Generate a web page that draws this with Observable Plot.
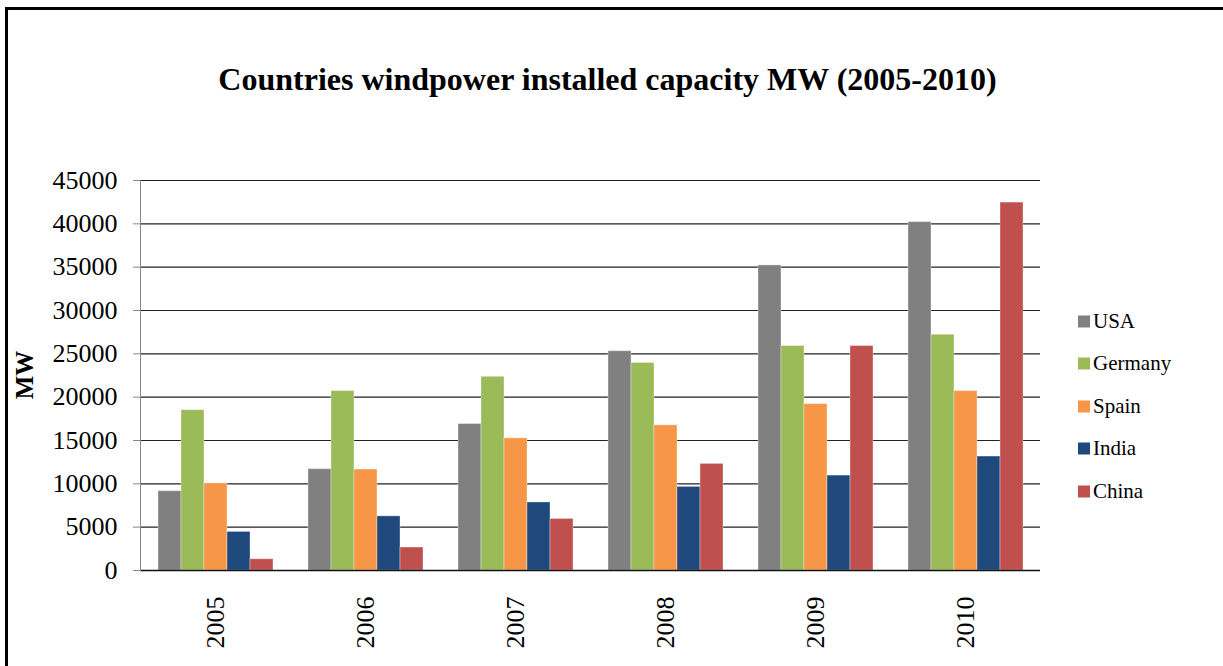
<!DOCTYPE html>
<html>
<head>
<meta charset="utf-8">
<script src="https://cdn.jsdelivr.net/npm/d3@7"></script>
<script src="https://cdn.jsdelivr.net/npm/@observablehq/plot@0.6"></script>
<style>
  html, body { margin: 0; padding: 0; background: #fff; }
  #wrap { position: relative; width: 1223px; height: 666px; overflow: hidden; font-family: "Liberation Serif", "Times New Roman", serif; }
  #border { position: absolute; left: 5px; top: 7px; width: 1400px; height: 800px; border-top: 3px solid #000; border-left: 3px solid #000; }
  #title { position: absolute; left: 0; width: 1215px; top: 61px; text-align: center; font-weight: bold; font-size: 32px; color: #000; }
  #chart { position: absolute; left: 0; top: 0; }
  #ylabel { position: absolute; left: 25px; top: 375px; transform: translate(-50%, -50%) rotate(-90deg); font-weight: bold; font-size: 25px; white-space: nowrap; }
  #legend { position: absolute; left: 1078px; top: 0; }
  .row { position: absolute; left: 0; display: flex; align-items: center; white-space: nowrap; font-size: 21px; font-family: "Liberation Serif", serif; transform: translateY(-50%); }
  .sw { width: 12px; height: 12px; margin-right: 3px; }
</style>
</head>
<body>
<div id="wrap">
  <div id="border"></div>
  <div id="title">Countries windpower installed capacity MW (2005-2010)</div>
  <div id="chart"></div>
  <div id="ylabel">MW</div>
  <div id="legend"></div>
</div>
<script>
const years = ["2005", "2006", "2007", "2008", "2009", "2010"];
const countries = ["USA", "Germany", "Spain", "India", "China"];
const colors = ["#808080", "#9BBB59", "#F79646", "#1F497D", "#C0504D"];
const usa = [9150, 11690, 16900, 25300, 35200, 40200];
const germany = [18500, 20700, 22350, 23950, 25900, 27200];
const spain = [10050, 11650, 15250, 16750, 19200, 20700];
const india = [4450, 6250, 7850, 9650, 10950, 13150];
const china = [1300, 2650, 5950, 12300, 25900, 42450];
const yTicks = [0, 5000, 10000, 15000, 20000, 25000, 30000, 35000, 40000, 45000];

const series = [usa, germany, spain, india, china];
const data = years.flatMap((yr, i) => countries.map((c, j) => ({year: yr, country: c, value: series[j][i]})));

const chart = Plot.plot({
  width: 1223,
  height: 666,
  marginTop: 180,
  marginBottom: 96,
  marginLeft: 140,
  marginRight: 183,
  style: {fontFamily: "'Liberation Serif', 'Times New Roman', serif", background: "transparent", color: "#000", overflow: "visible"},
  fx: {domain: years, padding: 0, label: null},
  x: {domain: countries, paddingInner: 0, paddingOuter: 0.76, axis: null},
  y: {domain: [0, 45000], axis: null},
  color: {domain: countries, range: colors},
  marks: [
    Plot.ruleY(yTicks.filter(v => v > 0), {stroke: "#222", strokeWidth: 1.2}),
    Plot.barY(data, {fx: "year", x: "country", y: "value", fill: "country", stroke: "#fff", strokeOpacity: 0.35, strokeWidth: 1}),
    Plot.ruleY([0], {stroke: "#111", strokeWidth: 1.6}),
    Plot.axisY({ticks: yTicks, tickSize: 7, tickFormat: d => String(d), fontSize: 26, stroke: "#888", tickPadding: 16, label: null}),
    Plot.axisFx({anchor: "bottom", tickRotate: -90, tickSize: 0, tickPadding: 26, fontSize: 26, label: null}),
    Plot.frame({anchor: "left", facetAnchor: "left", stroke: "#888"})
  ]
});
document.getElementById("chart").appendChild(chart);

const legend = document.getElementById("legend");
const rowY = [321, 363, 406, 448, 491];
countries.forEach((c, i) => {
  const row = document.createElement("div");
  row.className = "row";
  row.style.top = rowY[i] + "px";
  const sw = document.createElement("div");
  sw.className = "sw";
  sw.style.background = colors[i];
  const t = document.createElement("span");
  t.textContent = c;
  row.appendChild(sw);
  row.appendChild(t);
  legend.appendChild(row);
});
</script>
</body>
</html>
